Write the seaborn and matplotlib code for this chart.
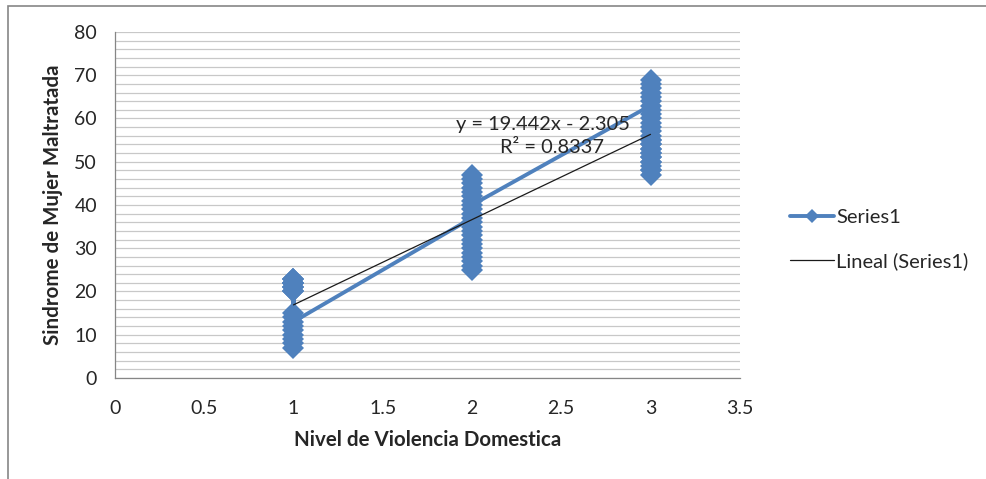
import numpy as np
import pandas as pd
import seaborn as sns
import matplotlib.pyplot as plt
from matplotlib.ticker import MultipleLocator
from matplotlib.patches import Rectangle

# Values, kept in drawing order (the line joins them in this order)
nivel_1 = [20, 23, 22, 21, 20, 21, 22, 23, 7, 8, 9, 10, 11, 12, 14, 15, 21, 22, 23, 20, 22, 13]
nivel_2 = [37, 25, 26, 27, 28, 29, 30, 31, 32, 33, 34, 35, 36, 38, 39, 41, 42, 43, 44, 45, 46, 47, 40]
nivel_3 = [63, 47, 48, 50, 51, 52, 53, 54, 55, 48, 49, 50, 51, 52, 53, 54, 55, 56, 57, 58, 59, 60,
           61, 62, 64, 65, 66, 67, 68, 69]

x_ticks = [0, 0.5, 1, 1.5, 2, 2.5, 3, 3.5]
y_ticks = [0, 10, 20, 30, 40, 50, 60, 70, 80]
eq_text = "y = 19.442x - 2.305"
r2_text = "R² = 0.8337"

df = pd.DataFrame({
    "nivel": [1] * len(nivel_1) + [2] * len(nivel_2) + [3] * len(nivel_3),
    "sindrome": nivel_1 + nivel_2 + nivel_3,
})

sns.set_style("white")
plt.rcParams["font.family"] = ["Lato", "DejaVu Sans"]

blue = "#4F81BD"
grey = "#868686"

fig = plt.figure(figsize=(9.87, 4.79), dpi=100)
ax = fig.add_axes([0.1165, 0.2109, 0.633, 0.7223])

sns.lineplot(data=df, x="nivel", y="sindrome", sort=False, estimator=None,
             color=blue, linewidth=2.8, marker="D", markersize=11,
             markeredgewidth=0, label="Series1", ax=ax, zorder=3)
sns.regplot(data=df, x="nivel", y="sindrome", scatter=False, ci=None, truncate=True,
            line_kws={"color": "#1a1a1a", "linewidth": 0.9, "zorder": 4},
            label="Lineal (Series1)", ax=ax)

ax.set_xlim(0, 3.5)
ax.set_ylim(0, 80)
ax.set_xticks(x_ticks)
ax.set_xticklabels([f"{t:g}" for t in x_ticks])
ax.set_yticks(y_ticks)
ax.yaxis.set_minor_locator(MultipleLocator(2))
ax.grid(True, axis="y", which="both", color="#C8C8C8", linewidth=0.9, zorder=0)
ax.set_axisbelow(True)

for side in ["top", "right"]:
    ax.spines[side].set_visible(False)
for side in ["left", "bottom"]:
    ax.spines[side].set_color(grey)
    ax.spines[side].set_linewidth(0.9)

ax.tick_params(axis="both", which="major", direction="out", length=5, width=0.9,
               color=grey, labelsize=14, labelcolor="#262626")
ax.tick_params(axis="x", which="major", pad=11)
ax.tick_params(axis="y", which="major", pad=8)
ax.tick_params(axis="y", which="minor", length=0)

ax.set_xlabel("Nivel de Violencia Domestica", fontsize=14.8, fontweight="bold", labelpad=9)
ax.set_ylabel("Sindrome de Mujer Maltratada", fontsize=14.8, fontweight="bold", labelpad=8)

ax.text(2.40, 58.7, eq_text, ha="center", va="center", fontsize=14.4, color="#262626", zorder=5)
ax.text(2.45, 53.2, r2_text, ha="center", va="center", fontsize=14.4, color="#262626", zorder=5)

leg = ax.legend(loc="center left", bbox_to_anchor=(0.80, 0.50), bbox_transform=fig.transFigure,
                frameon=False, fontsize=14.5, handlelength=2.2, handletextpad=0.1,
                borderpad=0, borderaxespad=0, labelspacing=1.3, markerscale=0.65)

# outer chart-area border (right and bottom edges fall outside the image)
fig.patches.append(Rectangle((8 / 987, -0.2), 1.2, 1.2 - 6 / 479,
                             transform=fig.transFigure, fill=False,
                             edgecolor=grey, linewidth=1.2))

fig.savefig("out.png", dpi=100)
